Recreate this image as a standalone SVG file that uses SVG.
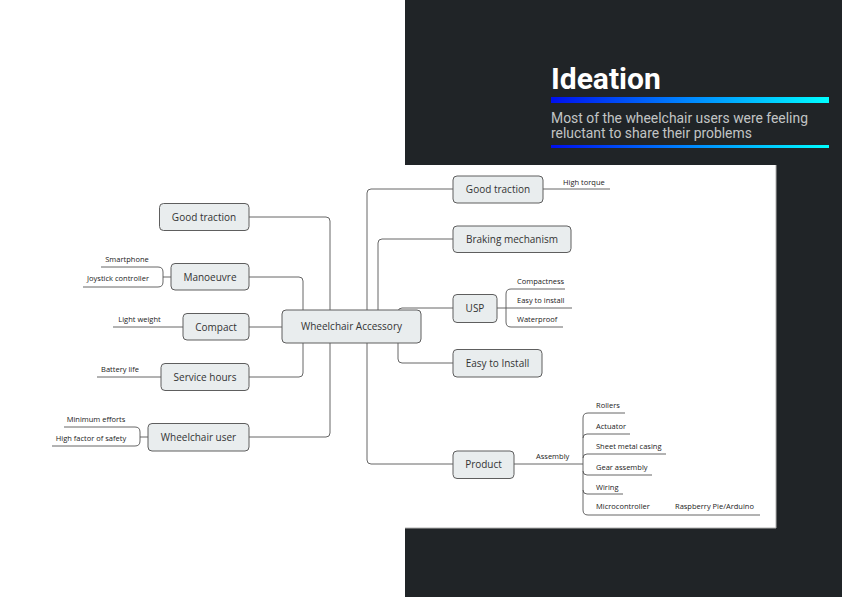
<svg xmlns="http://www.w3.org/2000/svg" width="842" height="597" viewBox="0 0 842 597">
<defs>
<linearGradient id="bar" x1="0" y1="0" x2="1" y2="0">
<stop offset="0" stop-color="#0010ee"/>
<stop offset="0.5" stop-color="#0088ff"/>
<stop offset="1" stop-color="#00ffff"/>
</linearGradient>
<style>
.node rect{fill:#e9edee;stroke:#5e5e5e;stroke-width:1}
.nt{font-family:"Open Sans","Noto Sans",sans-serif;font-size:10px;fill:#333;text-anchor:middle}
.st{font-family:"Open Sans","Noto Sans",sans-serif;font-size:7.5px;fill:#222}
.stm{text-anchor:middle}
.conn path{fill:none;stroke:#666;stroke-width:1}
.sub path{fill:none;stroke:#555;stroke-width:0.9}
</style>
</defs>
<rect x="0" y="0" width="842" height="597" fill="#ffffff"/>
<rect x="405" y="0" width="437" height="597" fill="#202427"/>
<rect x="400" y="165" width="376" height="363" fill="#ffffff"/>
<path d="M776 165 V528 H405" fill="none" stroke="#b0b0b0" stroke-width="1"/>
<g id="title">
<text x="551" y="89" font-family="Roboto,sans-serif" font-size="30" font-weight="bold" fill="#ffffff">Ideation</text>
<rect x="551" y="97" width="278" height="6" fill="url(#bar)"/>
<text font-family="Roboto,sans-serif" font-size="13.9" fill="#c2c4c5"><tspan x="551" y="123">Most of the wheelchair users were feeling</tspan><tspan x="551" y="138">reluctant to share their problems</tspan></text>
<rect x="551" y="145" width="278" height="3" fill="url(#bar)"/>
</g>
<g class="conn" id="connectors">
<path d="M249 217 H326 Q330 217 330 221 V327"/>
<path d="M249 437 H326 Q330 437 330 433 V327"/>
<path d="M249 277 H299 Q303 277 303 281 V312"/>
<path d="M249 327 H283"/>
<path d="M249 377 H299 Q303 377 303 373 V342"/>
<path d="M367 327 V193 Q367 189 371 189 H453"/>
<path d="M367 327 V460 Q367 464 371 464 H453"/>
<path d="M378 312 V243 Q378 239 382 239 H453"/>
<path d="M398 312 Q398 308 402 308 H453"/>
<path d="M398 342 V359 Q398 363 402 363 H453"/>
</g>
<g class="sub" id="sub-connectors">
<path d="M101 267 H158 Q163 267 163 272 V282 Q163 287 158 287 H83"/>
<path d="M163 277 H171"/>
<path d="M113 327 H183"/>
<path d="M97 377 H161"/>
<path d="M64 427 H135 Q140 427 140 432 V441 Q140 446 135 446 H52"/>
<path d="M140 437 H148"/>
<path d="M543 189 H610"/>
<path d="M497 308 H572"/>
<path d="M565 289 H511 Q506 289 506 294 V322 Q506 327 511 327 H563"/>
<path d="M514 464 H583"/>
<path d="M625 413 H588 Q583 413 583 418 V510 Q583 515 588 515 H760"/>
<path d="M583 438 Q583 434 587 434 H630"/>
<path d="M583 458 Q583 454 587 454 H666"/>
<path d="M583 471 Q583 475 587 475 H652"/>
<path d="M583 490 Q583 494 587 494 H623"/>
</g>
<g class="node" id="n-center"><rect x="282" y="310" width="139" height="33" rx="4"/><text class="nt" x="351.5" y="330">Wheelchair Accessory</text></g>
<g class="node" id="n-good-traction-l"><rect x="159.5" y="203.5" width="89.5" height="27" rx="4"/><text class="nt" x="204" y="220.5">Good traction</text></g>
<g class="node" id="n-manoeuvre"><rect x="171" y="263.5" width="78" height="26.5" rx="4"/><text class="nt" x="210" y="280.5">Manoeuvre</text></g>
<g class="node" id="n-compact"><rect x="183" y="313.5" width="66" height="26.5" rx="4"/><text class="nt" x="216" y="330.5">Compact</text></g>
<g class="node" id="n-service-hours"><rect x="161" y="363.5" width="88" height="27" rx="4"/><text class="nt" x="205" y="380.5">Service hours</text></g>
<g class="node" id="n-wheelchair-user"><rect x="148" y="423.5" width="101" height="27.5" rx="4"/><text class="nt" x="198.5" y="440.5">Wheelchair user</text></g>
<g class="node" id="n-good-traction-r"><rect x="453" y="176" width="90" height="27" rx="4"/><text class="nt" x="498" y="193">Good traction</text></g>
<g class="node" id="n-braking"><rect x="453" y="226" width="118" height="26.5" rx="4"/><text class="nt" x="512" y="242.5">Braking mechanism</text></g>
<g class="node" id="n-usp"><rect x="453" y="294.5" width="44" height="28" rx="4"/><text class="nt" x="475" y="312">USP</text></g>
<g class="node" id="n-easy-install"><rect x="453" y="349.5" width="89" height="27.5" rx="4"/><text class="nt" x="497.5" y="366.5">Easy to Install</text></g>
<g class="node" id="n-product"><rect x="453" y="451" width="61" height="27.5" rx="4"/><text class="nt" x="483.5" y="468">Product</text></g>
<g id="labels">
<text class="st stm" x="127" y="262">Smartphone</text>
<text class="st stm" x="118" y="281">Joystick controller</text>
<text class="st stm" x="139.5" y="322">Light weight</text>
<text class="st stm" x="120" y="372">Battery life</text>
<text class="st stm" x="96" y="422">Minimum efforts</text>
<text class="st stm" x="91" y="441">High factor of safety</text>
<text class="st" x="563" y="185">High torque</text>
<text class="st" x="517" y="284">Compactness</text>
<text class="st" x="517" y="303">Easy to install</text>
<text class="st" x="517" y="322">Waterproof</text>
<text class="st" x="536" y="459">Assembly</text>
<text class="st" x="596" y="408">Rollers</text>
<text class="st" x="596" y="429">Actuator</text>
<text class="st" x="596" y="449">Sheet metal casing</text>
<text class="st" x="596" y="470">Gear assembly</text>
<text class="st" x="596" y="490">Wiring</text>
<text class="st" x="596" y="509">Microcontroller</text>
<text class="st" x="675" y="509">Raspberry Pie/Arduino</text>
</g>
</svg>
